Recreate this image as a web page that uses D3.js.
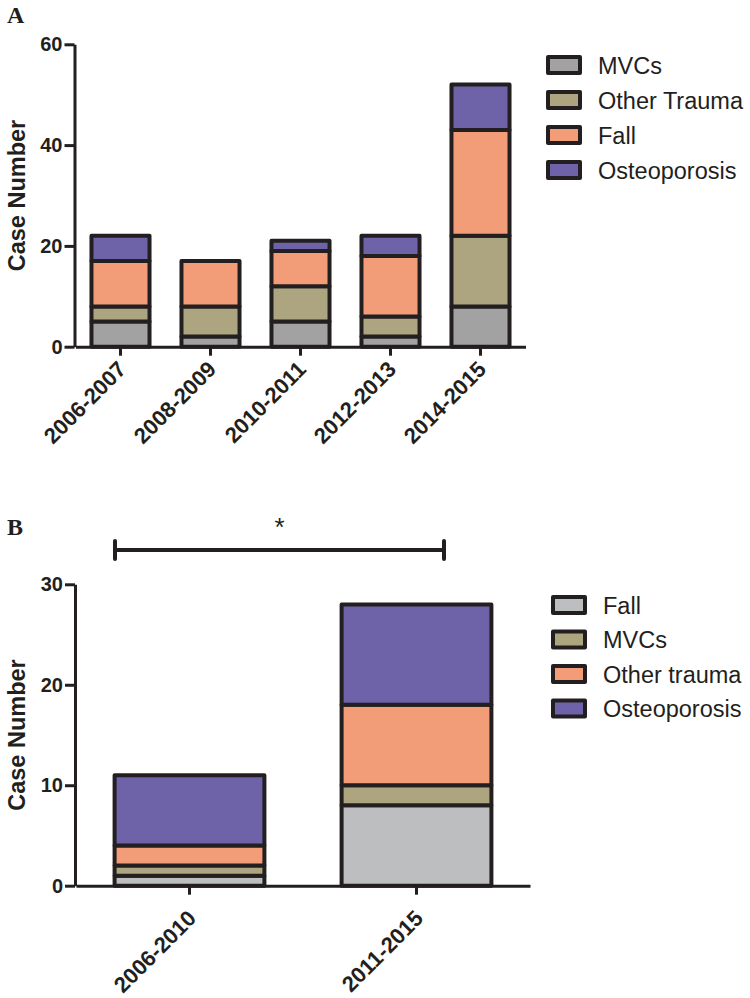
<!DOCTYPE html>
<html>
<head>
<meta charset="utf-8">
<script src="https://cdn.jsdelivr.net/npm/d3@7"></script>
<style>
  html, body { margin: 0; padding: 0; background: #fff; }
  svg { display: block; }
  .sans { font-family: Arial, "Liberation Sans", Helvetica, sans-serif; }
  .serif { font-family: "Times New Roman", "Liberation Serif", Times, serif; }
</style>
</head>
<body>
<svg id="chart" width="750" height="998"></svg>
<script>
// ---------- Data: panel A ----------
const catsA = ["2006-2007", "2008-2009", "2010-2011", "2012-2013", "2014-2015"];
const seriesA = ["MVCs", "Other Trauma", "Fall", "Osteoporosis"];
const mvcsA = [5, 2, 5, 2, 8];
const otherTraumaA = [3, 6, 7, 4, 14];
const fallA = [9, 9, 7, 12, 21];
const osteoA = [5, 0, 2, 4, 9];
const ticksA = [0, 20, 40, 60];

// ---------- Data: panel B ----------
const catsB = ["2006-2010", "2011-2015"];
const seriesB = ["Fall", "MVCs", "Other trauma", "Osteoporosis"];
const fallB = [1, 8];
const mvcsB = [1, 2];
const otherTraumaB = [2, 8];
const osteoB = [7, 10];
const ticksB = [0, 10, 20, 30];

// ---------- Styles ----------
const INK = "#231f20";
const colorsA = ["#a2a2a3", "#aca580", "#f39c78", "#6e62a8"];
const colorsB = ["#bdbec0", "#aca580", "#f39c78", "#6e62a8"];

const svg = d3.select("#chart");

function panel(opts) {
  const { cats, series, values, colors, ticks, yMax, x0, x1, yBottom, yTop,
          barFrac, labelDx, labelDy, legendX, legendY0, legendStep, letter, letterY } = opts;

  const rows = cats.map((c, i) => {
    const r = { cat: c };
    series.forEach((s, j) => r[s] = values[j][i]);
    return r;
  });
  const stacked = d3.stack().keys(series)(rows);

  const x = d3.scaleBand().domain(cats).range([x0, x1]).paddingInner(0).paddingOuter(0);
  const y = d3.scaleLinear().domain([0, yMax]).range([yBottom, yTop]);
  const bw = x.bandwidth() * barFrac;
  const g = svg.append("g");

  // bars
  stacked.forEach((layer, j) => {
    g.append("g").selectAll("rect")
      .data(layer.filter(d => d[1] - d[0] > 0))
      .join("rect")
      .attr("x", d => x(d.data.cat) + (x.bandwidth() - bw) / 2)
      .attr("y", d => y(d[1]))
      .attr("width", bw)
      .attr("height", d => y(d[0]) - y(d[1]))
      .attr("fill", colors[j])
      .attr("stroke", INK)
      .attr("stroke-width", 4)
      .attr("stroke-linejoin", "round");
  });

  // y axis
  const ya = g.append("g")
    .attr("transform", `translate(${x0 - 1},0)`)
    .call(d3.axisLeft(y).tickValues(ticks).tickSize(10).tickSizeOuter(0).tickPadding(2).tickFormat(d3.format("d")));
  ya.selectAll("path, line").attr("stroke", INK).attr("stroke-width", 3);
  ya.selectAll("text").attr("fill", INK).attr("class", "sans")
    .attr("font-family", null)
    .style("font-weight", "bold").style("font-size", "20px");

  // x axis
  const xa = g.append("g")
    .attr("transform", `translate(0,${yBottom})`)
    .call(d3.axisBottom(x).tickSize(9).tickSizeOuter(0).tickFormat(""));
  xa.selectAll("path, line").attr("stroke", INK).attr("stroke-width", 3);

  // x labels rotated
  g.append("g").selectAll("text")
    .data(cats)
    .join("text")
    .attr("class", "sans")
    .attr("transform", d => `translate(${x(d) + x.bandwidth() / 2 + labelDx},${yBottom + labelDy}) rotate(-45)`)
    .attr("text-anchor", "end")
    .attr("fill", INK)
    .style("font-weight", "bold").style("font-size", "22px")
    .text(d => d);

  // y title
  g.append("text")
    .attr("class", "sans")
    .attr("transform", `translate(25,${(yBottom + yTop) / 2}) rotate(-90)`)
    .attr("text-anchor", "middle")
    .attr("fill", INK)
    .style("font-weight", "bold").style("font-size", "23.5px")
    .text("Case Number");

  // legend
  const lg = g.append("g");
  series.forEach((s, j) => {
    const cy = legendY0 + j * legendStep;
    lg.append("rect")
      .attr("x", legendX).attr("y", cy - 8)
      .attr("width", 32).attr("height", 16)
      .attr("fill", colors[j]).attr("stroke", INK).attr("stroke-width", 4)
      .attr("stroke-linejoin", "round");
    lg.append("text")
      .attr("class", "sans")
      .attr("x", legendX + 50).attr("y", cy + 8.5)
      .attr("fill", INK)
      .style("font-size", "23.5px")
      .text(s);
  });

  // panel letter
  svg.append("text")
    .attr("class", "serif")
    .attr("x", 7).attr("y", letterY)
    .attr("fill", INK)
    .style("font-weight", "bold").style("font-size", "24px")
    .text(letter);

  return { x, y };
}

panel({
  cats: catsA, series: seriesA, values: [mvcsA, otherTraumaA, fallA, osteoA],
  colors: colorsA, ticks: ticksA, yMax: 60,
  x0: 75.5, x1: 525.5, yBottom: 346.7, yTop: 44.3, barFrac: 0.645,
  labelDx: 7, labelDy: 24,
  legendX: 548, legendY0: 65, legendStep: 35, letter: "A", letterY: 23
});

panel({
  cats: catsB, series: seriesB, values: [fallB, mvcsB, otherTraumaB, osteoB],
  colors: colorsB, ticks: ticksB, yMax: 30,
  x0: 76, x1: 530, yBottom: 885.7, yTop: 584.3, barFrac: 0.66,
  labelDx: 8, labelDy: 34,
  legendX: 553, legendY0: 605, legendStep: 34.5, letter: "B", letterY: 535
});

// significance bracket
const br = svg.append("g").attr("stroke", INK).attr("stroke-width", 4).attr("stroke-linecap", "round");
const bx1 = 115, bx2 = 444, by = 550;
br.append("line").attr("x1", bx1).attr("x2", bx2).attr("y1", by).attr("y2", by);
br.append("line").attr("x1", bx1).attr("x2", bx1).attr("y1", by - 9).attr("y2", by + 9);
br.append("line").attr("x1", bx2).attr("x2", bx2).attr("y1", by - 9).attr("y2", by + 9);
svg.append("text")
  .attr("class", "sans")
  .attr("x", (bx1 + bx2) / 2).attr("y", 536)
  .attr("text-anchor", "middle").attr("fill", INK)
  .style("font-size", "26px")
  .text("*");
</script>
</body>
</html>
